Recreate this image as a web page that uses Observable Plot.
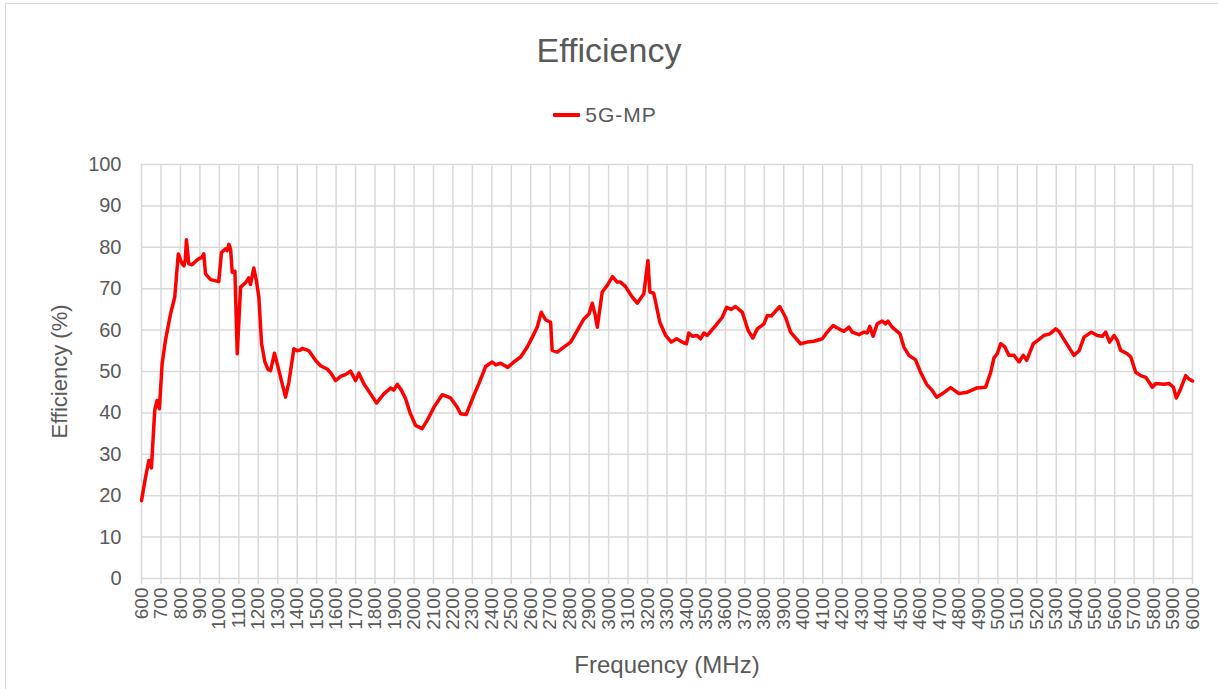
<!DOCTYPE html>
<html>
<head>
<meta charset="utf-8">
<script src="https://cdn.jsdelivr.net/npm/d3@7"></script>
<script src="https://cdn.jsdelivr.net/npm/@observablehq/plot@0.6"></script>
<style>
  html, body { margin: 0; padding: 0; background: #fff; }
  #wrap { position: relative; width: 1218px; height: 689px; overflow: hidden; font-family: "Liberation Sans", Arial, sans-serif; color: #595959; }
  #border { position: absolute; left: 5px; top: 3px; width: 1230px; height: 700px; border: 1.5px solid #d9d9d9; box-sizing: border-box; }
  #title { position: absolute; top: 31px; left: 0; width: 1218px; text-align: center; font-size: 34px; line-height: normal; }
  #legend { position: absolute; top: 103px; left: 0; width: 1210px; height: 24px; display: flex; justify-content: center; align-items: center; font-size: 21px; letter-spacing: 1px; }
  #legend .sw { display: inline-block; width: 27px; height: 4px; background: #ff0000; margin-right: 5px; border-radius: 1px; }
  #chart { position: absolute; top: 140px; left: 0; }
</style>
</head>
<body>
<div id="wrap">
  <div id="border"></div>
  <div id="title">Efficiency</div>
  <div id="legend"><span class="sw"></span><span>5G-MP</span></div>
  <div id="chart"></div>
</div>
<script>
const freqMHz = [
  600, 621, 638, 651, 668, 680, 692, 706, 723, 749, 771, 789, 800, 809, 818, 825, 831, 843, 860, 880,
  897, 910, 920, 929, 955, 972, 997, 1011, 1032, 1040, 1049, 1058, 1066, 1080, 1092, 1109, 1134, 1151, 1160, 1177,
  1190, 1203, 1217, 1234, 1250, 1263, 1283, 1297, 1340, 1357, 1383, 1400, 1417, 1426, 1445, 1460, 1494, 1520, 1554, 1575,
  1597, 1623, 1650, 1674, 1700, 1717, 1743, 1777, 1808, 1845, 1880, 1896, 1914, 1935, 1957, 1980, 2008, 2042, 2068, 2103,
  2145, 2188, 2222, 2239, 2268, 2307, 2333, 2368, 2402, 2420, 2445, 2482, 2513, 2548, 2582, 2608, 2633, 2654, 2676, 2702,
  2710, 2736, 2770, 2805, 2839, 2873, 2899, 2916, 2930, 2942, 2967, 2993, 3020, 3044, 3061, 3087, 3121, 3147, 3181, 3202,
  3212, 3232, 3263, 3293, 3322, 3349, 3378, 3400, 3412, 3430, 3455, 3472, 3490, 3507, 3550, 3584, 3606, 3630, 3652, 3687,
  3717, 3741, 3764, 3798, 3815, 3836, 3879, 3909, 3935, 3986, 4021, 4055, 4098, 4123, 4154, 4175, 4209, 4235, 4252, 4286,
  4312, 4329, 4342, 4359, 4380, 4406, 4423, 4435, 4457, 4497, 4517, 4543, 4577, 4603, 4634, 4663, 4685, 4714, 4757, 4800,
  4843, 4890, 4937, 4963, 4980, 4997, 5014, 5035, 5057, 5083, 5109, 5130, 5148, 5182, 5205, 5236, 5267, 5297, 5314, 5348,
  5391, 5417, 5443, 5480, 5511, 5537, 5554, 5574, 5597, 5614, 5631, 5665, 5683, 5708, 5734, 5760, 5794, 5811, 5854, 5880,
  5902, 5917, 5939, 5965, 5982, 6000
];
const efficiency5GMP = [
  18.8, 24.5, 28.5, 26.7, 40.6, 43.0, 41.0, 51.9, 57.5, 63.9, 68.0, 78.4, 77.0, 76.0, 75.5, 77.0, 81.8, 76.0, 75.8, 76.7,
  77.3, 77.5, 78.4, 73.6, 72.2, 72.0, 71.7, 78.8, 79.6, 79.2, 80.7, 79.5, 74.0, 74.2, 54.3, 70.4, 71.4, 72.6, 71.0, 75.0,
  72.0, 68.0, 56.7, 52.3, 50.5, 50.2, 54.4, 51.9, 43.8, 47.4, 55.5, 55.0, 55.2, 55.6, 55.3, 55.0, 52.7, 51.4, 50.6, 49.5,
  47.8, 48.8, 49.3, 50.1, 47.8, 49.6, 47.0, 44.6, 42.4, 44.6, 46.0, 45.5, 46.9, 45.5, 43.4, 40.0, 37.0, 36.2, 38.2, 41.4,
  44.4, 43.6, 41.4, 39.8, 39.6, 44.2, 47.0, 51.2, 52.3, 51.6, 52.0, 51.0, 52.3, 53.5, 55.9, 58.3, 60.7, 64.3, 62.5, 61.9,
  55.1, 54.7, 55.9, 57.1, 59.9, 62.7, 63.9, 66.5, 63.9, 60.7, 69.2, 70.8, 72.9, 71.6, 71.6, 70.5, 68.0, 66.5, 68.8, 76.8,
  69.2, 68.9, 61.9, 58.7, 57.1, 57.9, 57.1, 56.7, 59.3, 58.5, 58.7, 57.9, 59.3, 58.7, 61.1, 63.1, 65.5, 65.0, 65.7, 64.3,
  59.9, 58.1, 60.3, 61.5, 63.5, 63.4, 65.7, 63.1, 59.5, 56.7, 57.1, 57.3, 57.9, 59.5, 61.1, 60.5, 59.7, 60.7, 59.5, 58.9,
  59.5, 59.3, 60.9, 58.5, 61.5, 62.2, 61.5, 62.2, 60.7, 59.1, 55.9, 53.9, 52.8, 49.8, 46.9, 45.4, 43.8, 44.6, 46.1, 44.7,
  45.0, 46.0, 46.2, 49.8, 53.3, 54.3, 56.7, 56.0, 53.9, 53.9, 52.3, 53.9, 52.7, 56.7, 57.5, 58.7, 59.1, 60.3, 59.7, 57.1,
  53.9, 55.0, 58.3, 59.5, 58.7, 58.5, 59.5, 57.1, 58.7, 57.5, 55.1, 54.3, 53.5, 49.8, 49.0, 48.6, 46.2, 47.1, 46.9, 47.1,
  46.2, 43.6, 45.8, 49.0, 48.2, 47.7
];
const xTickValues = d3.range(600, 6001, 100);
const yTickValues = d3.range(0, 101, 10);
const seriesName = "5G-MP";
const xTitle = "Frequency (MHz)";
const yTitle = "Efficiency (%)";

const data = freqMHz.map((f, i) => ({freq: f, eff: efficiency5GMP[i], series: seriesName}));

const grid = "#d9d9d9";
const textColor = "#595959";

const chart = Plot.plot({
  width: 1218,
  height: 549,
  marginLeft: 141,
  marginRight: 26,
  marginTop: 24,
  marginBottom: 111,
  style: {fontFamily: "'Liberation Sans', Arial, sans-serif", color: textColor, background: "transparent", overflow: "visible"},
  x: {type: "linear", domain: [600, 6000]},
  y: {type: "linear", domain: [0, 100]},
  marks: [
    Plot.ruleX(xTickValues, {x: d => d, stroke: grid, strokeWidth: 1.5}),
    Plot.ruleY(yTickValues, {y: d => d, stroke: grid, strokeWidth: 1.5}),
    Plot.axisX({
      ticks: xTickValues, tickSize: 6, tickPadding: 3, tickRotate: -90,
      tickFormat: d => String(d), stroke: grid, strokeWidth: 1.5, fill: textColor, fontSize: 19, label: null
    }),
    Plot.axisY({
      ticks: yTickValues, tickSize: 0, tickPadding: 20,
      tickFormat: d => String(d), fill: textColor, fontSize: 20, label: null
    }),
    Plot.line(data, {x: "freq", y: "eff", stroke: "#ff0000", strokeWidth: 3.5, strokeLinejoin: "round", strokeLinecap: "round"}),
    Plot.text([xTitle], {text: d => d, frameAnchor: "bottom", dy: 87, textAnchor: "middle", lineAnchor: "middle", fontSize: 24, fill: textColor}),
    Plot.text([yTitle], {text: d => d, frameAnchor: "left", dx: -82, rotate: -90, textAnchor: "middle", lineAnchor: "middle", fontSize: 22, fill: textColor})
  ]
});
document.getElementById("chart").appendChild(chart);
</script>
</body>
</html>
